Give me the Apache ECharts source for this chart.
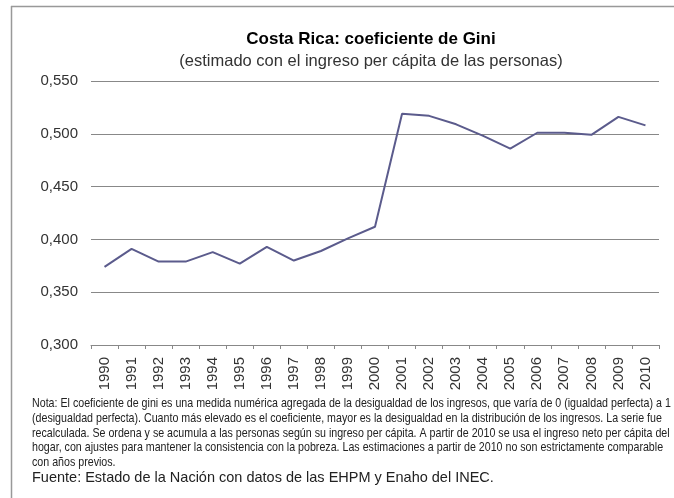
<!DOCTYPE html>
<html>
<head>
<meta charset="utf-8">
<script src="https://cdn.jsdelivr.net/npm/echarts@6/dist/echarts.min.js"></script>
<style>
  html, body { margin: 0; padding: 0; background: #fff; }
  #chart { width: 674px; height: 498px; }
</style>
</head>
<body>
<div id="chart"></div>
<script>
var years = ['1990', '1991', '1992', '1993', '1994', '1995', '1996', '1997', '1998', '1999', '2000',
  '2001', '2002', '2003', '2004', '2005', '2006', '2007', '2008', '2009', '2010'];
var gini = [0.374, 0.391, 0.379, 0.379, 0.388, 0.377, 0.393, 0.380, 0.389, 0.401, 0.412,
  0.519, 0.517, 0.509, 0.498, 0.486, 0.501, 0.501, 0.499, 0.516, 0.508];
var noteLines = [
  'Nota: El coeficiente de gini es una medida numérica agregada de la desigualdad de los ingresos, que varía de 0 (igualdad perfecta) a 1',
  '(desigualdad perfecta). Cuanto más elevado es el coeficiente, mayor es la desigualdad en la distribución de los ingresos. La serie fue',
  'recalculada. Se ordena y se acumula a las personas según su ingreso per cápita. A partir de 2010 se usa el ingreso neto per cápita del',
  'hogar, con ajustes para mantener la consistencia con la pobreza. Las estimaciones a partir de 2010 no son estrictamente comparable',
  'con años previos.'
];
var source = 'Fuente: Estado de la Nación con datos de las EHPM y Enaho del INEC.';

var chart = echarts.init(document.getElementById('chart'));

var font = '"Liberation Sans", Arial, sans-serif';

var option = {
  backgroundColor: '#fff',
  animation: false,
  title: [{
    text: 'Costa Rica: coeficiente de Gini',
    left: 366,
    top: 26,
    textAlign: 'center',
    textStyle: { fontFamily: font, fontSize: 17, fontWeight: 'bold', color: '#000' }
  }, {
    text: '(estimado con el ingreso per cápita de las personas)',
    left: 366,
    top: 48,
    textAlign: 'center',
    textStyle: { fontFamily: font, fontSize: 16.5, fontWeight: 'normal', color: '#333' }
  }],
  grid: {
    left: 91,
    right: 15,
    top: 81,
    bottom: 153
  },
  xAxis: {
    type: 'category',
    data: years,
    boundaryGap: true,
    axisLine: { lineStyle: { color: '#888', width: 1 } },
    axisTick: { show: true, length: 4, lineStyle: { color: '#888' } },
    axisLabel: {
      rotate: 90,
      margin: 12,
      interval: 0,
      fontFamily: font,
      fontSize: 15,
      color: '#333'
    }
  },
  yAxis: {
    type: 'value',
    min: 0.3,
    max: 0.55,
    interval: 0.05,
    axisLine: { show: false },
    axisTick: { show: false },
    splitLine: { lineStyle: { color: '#888', width: 1 } },
    axisLabel: {
      margin: 13,
      fontFamily: font,
      fontSize: 15,
      color: '#333',
      formatter: function (v) { return v.toFixed(3).replace('.', ','); }
    }
  },
  series: [{
    type: 'line',
    data: gini,
    showSymbol: false,
    lineStyle: { color: '#5b5b8c', width: 2 }
  }],
  graphic: [
    { type: 'line', shape: { x1: 11, y1: 6.5, x2: 674, y2: 6.5 }, style: { stroke: '#999', lineWidth: 1.5 } },
    { type: 'line', shape: { x1: 11.5, y1: 6, x2: 11.5, y2: 498 }, style: { stroke: '#999', lineWidth: 1.5 } },
    {
      type: 'text',
      x: 32,
      y: 396,
      scaleX: 0.82,
      style: {
        x: 0,
        y: 0,
        text: noteLines.join('\n'),
        fontFamily: font,
        fontSize: 13,
        lineHeight: 14.8,
        fill: '#222'
      }
    },
    {
      type: 'text',
      x: 32,
      y: 470,
      style: {
        x: 0,
        y: 0,
        text: source,
        fontFamily: font,
        fontSize: 14.5,
        fill: '#222'
      }
    }
  ]
};

chart.setOption(option);
</script>
</body>
</html>
